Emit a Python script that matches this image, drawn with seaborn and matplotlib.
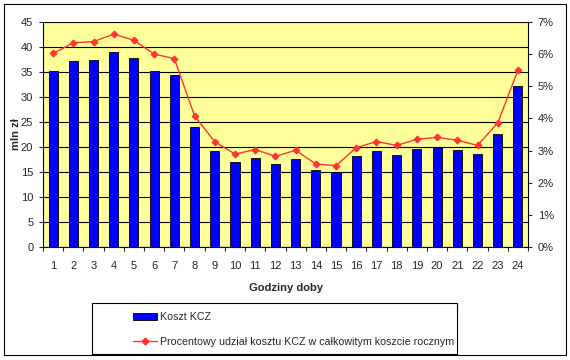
import numpy as np
import pandas as pd
import matplotlib
matplotlib.use("Agg")
import matplotlib.pyplot as plt
from matplotlib.patches import Rectangle, Patch
from matplotlib.lines import Line2D
from matplotlib.ticker import FuncFormatter, FixedLocator
import seaborn as sns

hours = list(range(1, 25))
cost = [35.2, 37.1, 37.4, 38.9, 37.7, 35.2, 34.3, 23.9, 19.1, 16.9, 17.7, 16.6,
        17.6, 15.3, 15.0, 18.2, 19.2, 18.4, 19.6, 19.9, 19.4, 18.5, 22.6, 32.2]
share = [6.02, 6.35, 6.39, 6.62, 6.43, 6.00, 5.86, 4.08, 3.27, 2.89, 3.03, 2.82,
         3.01, 2.58, 2.53, 3.09, 3.28, 3.16, 3.35, 3.41, 3.32, 3.16, 3.86, 5.50]

bar_label = "Koszt KCZ"
line_label = "Procentowy udział kosztu KCZ w całkowitym koszcie rocznym"

sns.set_style("white")
plt.rcParams['font.family'] = ['Liberation Sans', 'DejaVu Sans']

df = pd.DataFrame({"hour": hours, "cost": cost, "share": share})

fig = plt.figure(figsize=(5.7, 3.6), dpi=100)
ax = fig.add_axes([0.0754, 0.314, 0.851, 0.625])
ax.set_facecolor("#FFFF99")

sns.barplot(data=df, x="hour", y="cost", ax=ax, color="#0000FF",
            width=0.45, edgecolor="black", linewidth=0.6, saturation=1, zorder=3)
ax.set_ylim(0, 45)
ax.set_yticks(range(0, 46, 5))
ax.set_xlim(-0.5, 23.5)
ax.grid(axis="y", color="black", linewidth=0.8, zorder=0)
ax.set_axisbelow(True)
ax.set_xlabel("Godziny doby", fontsize=8, fontweight="bold", labelpad=9)
ax.set_ylabel("mln zł", fontsize=8, fontweight="bold", labelpad=0)
ax.tick_params(axis="both", labelsize=8, direction="out", length=3, width=0.8, pad=4)
ax.tick_params(axis="x", length=0, pad=10)
ax.xaxis.set_minor_locator(FixedLocator(np.arange(-0.5, 24, 1)))
ax.tick_params(axis="x", which="minor", length=3, width=0.8, direction="out")
ax.tick_params(axis="y", left=True)
ax.tick_params(axis="x", which="minor", bottom=True)
for s in ["top", "right"]:
    ax.spines[s].set_visible(False)
for s in ["left", "bottom"]:
    ax.spines[s].set_color("black")
    ax.spines[s].set_linewidth(0.8)

ax2 = ax.twinx()
sns.pointplot(data=df, x="hour", y="share", ax=ax2, color="#FF3333",
              markers="D", markersize=3.5, linewidth=1, errorbar=None, zorder=4)
ax2.set_ylim(0, 7)
ax2.set_xlim(-0.5, 23.5)
ax2.set_yticks(range(0, 8))
ax2.yaxis.set_major_formatter(FuncFormatter(lambda v, p: f"{int(v)}%"))
ax2.set_ylabel("")
ax2.set_xlabel("")
ax2.tick_params(axis="y", labelsize=8, direction="out", length=3, width=0.8, right=True, pad=4)
for s in ["top", "left", "bottom"]:
    ax2.spines[s].set_visible(False)
ax2.spines["right"].set_color("black")
ax2.spines["right"].set_linewidth(0.8)

# legend: frame drawn separately so the entries can sit indented like the original
fig.patches.append(Rectangle((92 / 570, 1 - 354 / 360), 365 / 570, 51 / 360,
                             transform=fig.transFigure, fill=False,
                             edgecolor="black", linewidth=0.8))
handles = [Patch(facecolor="#0000FF", edgecolor="black", linewidth=0.6),
           Line2D([0], [0], color="#FF3333", marker="D", markersize=3.5, linewidth=1)]
fig.legend(handles, [bar_label, line_label], loc="upper left",
           bbox_to_anchor=(133 / 570, 1 - 312 / 360), bbox_transform=fig.transFigure,
           fontsize=7.7, frameon=False, handlelength=2.2, handletextpad=0.3,
           labelspacing=1.4, borderpad=0, borderaxespad=0)

fig.patches.append(Rectangle((0.007, 0.013), 0.986, 0.975, transform=fig.transFigure,
                             fill=False, edgecolor="black", linewidth=0.8))

fig.savefig("out.png", dpi=100)
